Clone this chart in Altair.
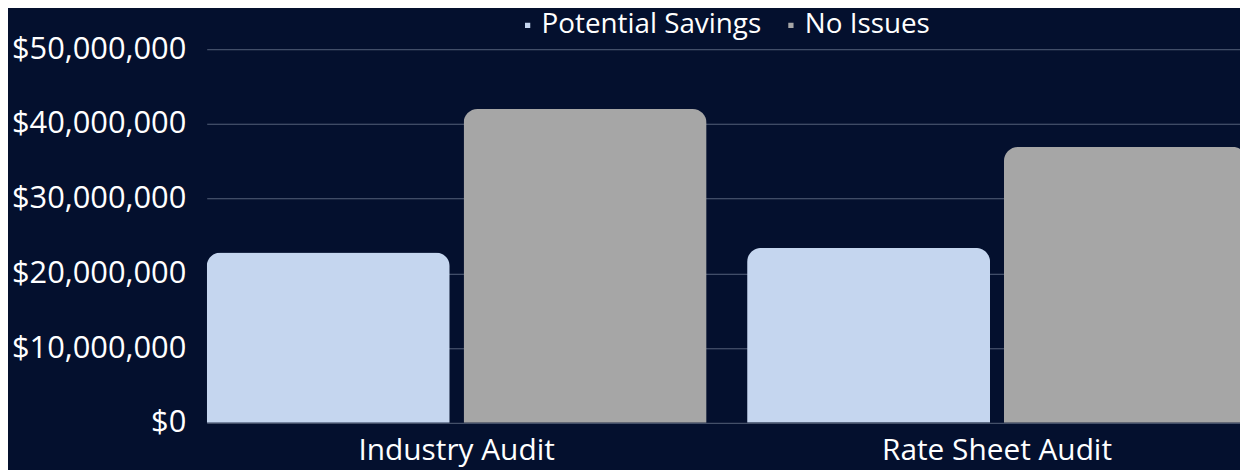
import altair as alt
import pandas as pd

categories = ["Industry Audit", "Rate Sheet Audit"]
series = ["Potential Savings", "No Issues"]
potential_savings = [22800000, 23400000]
no_issues = [42000000, 36900000]
colors = ["#C5D6EF", "#A6A6A6"]

rows = []
for i, c in enumerate(categories):
    rows.append({"Audit": c, "Series": series[0], "Value": potential_savings[i]})
    rows.append({"Audit": c, "Series": series[1], "Value": no_issues[i]})
df = pd.DataFrame(rows)

FONT = "Open Sans"

chart = alt.Chart(df).mark_bar(
    cornerRadiusTopLeft=14, cornerRadiusTopRight=14
).encode(
    x=alt.X("Audit:N", sort=categories,
            scale=alt.Scale(paddingInner=0.075, paddingOuter=0),
            axis=alt.Axis(title=None, labelAngle=0, labelFontSize=30, labelColor="#FFFFFF",
                          labelFont=FONT, ticks=False, domain=False, labelPadding=13,
                          labelLimit=0)),
    xOffset=alt.XOffset("Series:N", sort=series,
                        scale=alt.Scale(paddingInner=0.054, paddingOuter=0)),
    y=alt.Y("Value:Q", scale=alt.Scale(domain=[0, 50000000]),
            axis=alt.Axis(title=None, values=[0, 10000000, 20000000, 30000000, 40000000, 50000000],
                          format="$,.0f", labelFontSize=31, labelColor="#FFFFFF", labelFont=FONT,
                          ticks=False, domain=False, labelPadding=21, labelLimit=0,
                          gridColor="#56627a", gridWidth=1)),
    color=alt.Color("Series:N", sort=series,
                    scale=alt.Scale(domain=series, range=colors),
                    legend=alt.Legend(title=None, orient="none", legendX=309, legendY=-38,
                                      direction="horizontal", symbolType="square",
                                      symbolSize=28, symbolStrokeWidth=0,
                                      labelFontSize=28, labelColor="#FFFFFF", labelFont=FONT,
                                      labelOffset=0, columnPadding=15, labelLimit=0)),
).properties(
    width=1047, height=376,
    autosize=alt.AutoSizeParams(type="none"),
    padding={"left": 200, "top": 40, "right": -7, "bottom": 46},
    background="#04102E",
).configure_view(stroke=None)

chart.save("out.html", embed_options={"renderer": "svg", "actions": False})
